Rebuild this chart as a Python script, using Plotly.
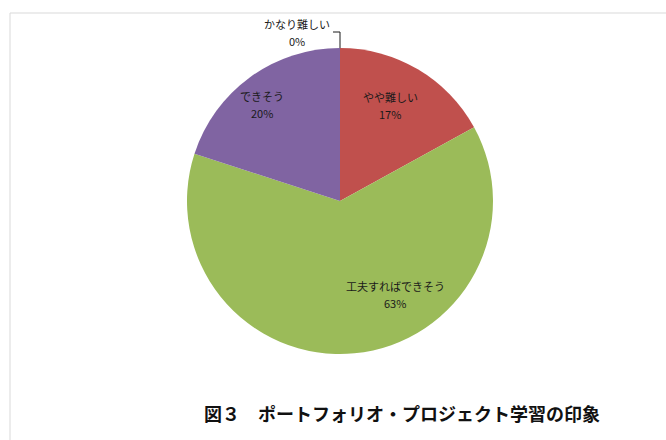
import plotly.graph_objects as go

labels = ["かなり難しい", "やや難しい", "工夫すればできそう", "できそう"]
values = [0, 17, 63, 20]
colors = ["#4F81BD", "#C0504D", "#9BBB59", "#8064A2"]
title_text = "図３　ポートフォリオ・プロジェクト学習の印象"

W, H = 666, 440
cx, cy, R = 340, 201, 153

# label anchor positions (pixels from top-left), styling only
label_pos = [(297, 24), (390, 97), (395, 286), (262, 96)]
line_gap = 17

font_family = "Noto Sans CJK JP, sans-serif"
text_font = dict(family=font_family, size=11, color="#1a1a1a")

fig = go.Figure(go.Pie(
    labels=labels,
    values=values,
    sort=False,
    direction="clockwise",
    rotation=0,
    marker=dict(colors=colors, line=dict(width=0)),
    textinfo="none",
    showlegend=False,
    hoverinfo="label+value",
    domain=dict(x=[(cx - R) / W, (cx + R) / W], y=[1 - (cy + R) / H, 1 - (cy - R) / H]),
))

annotations = []
shapes = []
for i, (lab, val) in enumerate(zip(labels, values)):
    px, py = label_pos[i]
    annotations.append(dict(
        x=px / W, y=1 - py / H, xref="paper", yref="paper",
        text=lab, showarrow=False, font=text_font,
        xanchor="center", yanchor="middle",
    ))
    annotations.append(dict(
        x=px / W, y=1 - (py + line_gap) / H, xref="paper", yref="paper",
        text=f"{val}%", showarrow=False, font=text_font,
        xanchor="center", yanchor="middle",
    ))
    if val == 0:
        shapes.append(dict(
            type="path", xref="paper", yref="paper",
            path=f"M {cx / W} {1 - (cy - R) / H} L {cx / W} {1 - 32 / H} L {333 / W} {1 - 32 / H}",
            line=dict(color="#1a1a1a", width=1),
        ))

# chart frame
shapes.append(dict(type="line", xref="paper", yref="paper",
                   x0=10 / W, y0=1 - 13 / H, x1=1, y1=1 - 13 / H,
                   line=dict(color="#d9d9d9", width=1)))
shapes.append(dict(type="line", xref="paper", yref="paper",
                   x0=10 / W, y0=1 - 13 / H, x1=10 / W, y1=0,
                   line=dict(color="#d9d9d9", width=1)))

annotations.append(dict(
    x=402 / W, y=1 - 413 / H, xref="paper", yref="paper",
    text=f"<b>{title_text}</b>", showarrow=False,
    font=dict(family=font_family, size=18, color="#111111"),
    xanchor="center", yanchor="middle",
))

fig.update_layout(
    width=W, height=H,
    margin=dict(l=0, r=0, t=0, b=0),
    paper_bgcolor="white",
    plot_bgcolor="white",
    annotations=annotations,
    shapes=shapes,
)

fig.write_html(
    "out.html",
    config={"displayModeBar": False},
    post_script="document.body.style.margin='0';document.body.style.overflow='hidden';",
)
